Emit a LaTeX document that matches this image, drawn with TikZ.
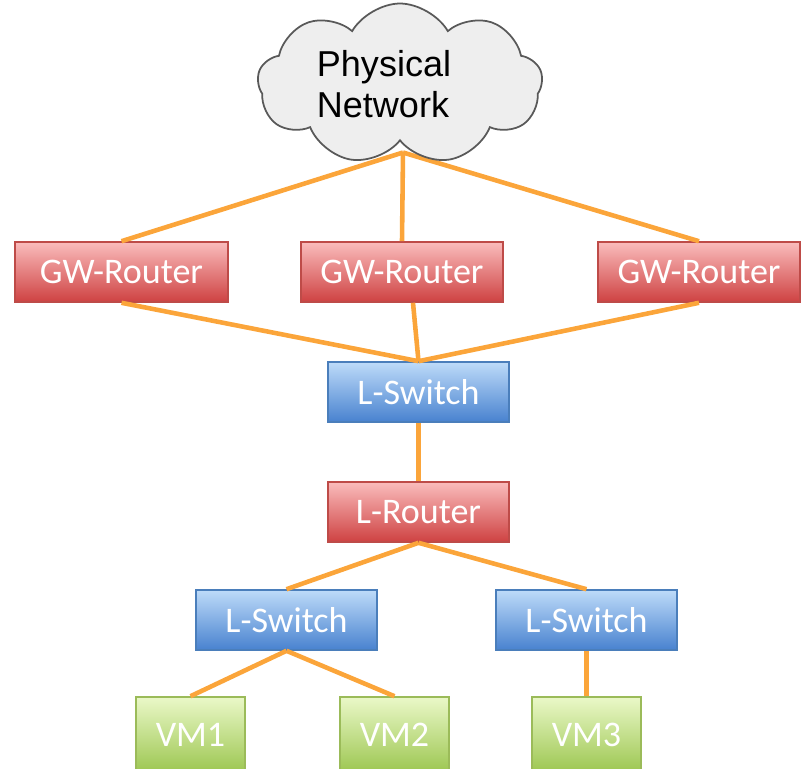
\documentclass[tikz,border=0pt]{standalone}
\usepackage{fontspec}
\setmainfont{Carlito}
\newfontfamily\cloudfont{Liberation Sans}
\usepackage{tikz}
\usetikzlibrary{calc,positioning,shapes.symbols}
\definecolor{linkorange}{RGB}{251,165,58}
\definecolor{redtop}{RGB}{250,188,188}
\definecolor{redbot}{RGB}{206,66,66}
\definecolor{redline}{RGB}{190,75,72}
\definecolor{bluetop}{RGB}{190,219,249}
\definecolor{bluebot}{RGB}{72,130,207}
\definecolor{blueline}{RGB}{74,126,187}
\definecolor{greentop}{RGB}{234,248,200}
\definecolor{greenbot}{RGB}{156,198,80}
\definecolor{greenline}{RGB}{155,187,89}
\definecolor{cloudgray}{RGB}{238,238,238}
\tikzstyle{box}=[rectangle,draw,line width=0.9pt,text=white,inner sep=0pt,minimum height=1.2cm,font=\fontsize{20.5}{24}\selectfont]
\tikzstyle{routerbox}=[box,draw=redline,top color=redtop,bottom color=redbot]
\tikzstyle{switchbox}=[box,draw=blueline,top color=bluetop,bottom color=bluebot,minimum width=3.62cm]
\tikzstyle{vmbox}=[box,draw=greenline,top color=greentop,bottom color=greenbot,minimum width=2.18cm,minimum height=1.52cm]
\tikzstyle{link}=[-,linkorange,line width=2.6pt]

\begin{document}
\begin{tikzpicture}
            \clip (0,0) rectangle (16.04,-15.38);
            % gateway routers
            \node[routerbox,minimum width=4.26cm] (gw1) at (2.43,-5.44) {GW-Router};
            \node[routerbox,minimum width=4.04cm] (gw2) at (8.04,-5.44) {GW-Router};
            \node[routerbox,minimum width=4.04cm] (gw3) at (13.98,-5.44) {GW-Router};
            \node[switchbox] (sw0) at (8.37,-7.84) {L-Switch};
            \node[routerbox,minimum width=3.62cm] (lr) at (8.37,-10.24) {L-Router};
            \node[switchbox] (sw1) at (5.73,-12.4) {L-Switch};
            \node[switchbox] (sw2) at (11.73,-12.4) {L-Switch};
            % vms (cut at bottom)
            \node[vmbox] (vm1) at (3.81,-14.7) {VM1};
            \node[vmbox] (vm2) at (7.89,-14.7) {VM2};
            \node[vmbox] (vm3) at (11.73,-14.7) {VM3};
            \coordinate (netb) at (8.06,-3.05);
            \coordinate (gw2b) at ($(gw2.south)+(0.22,0)$);
            \draw[link] (netb) -- (gw1.north);
            \draw[link] (netb) -- (gw2.north);
            \draw[link] (netb) -- (gw3.north);
            \draw[link] (gw1.south) -- (sw0.north);
            \draw[link] (gw2b) -- (sw0.north);
            \draw[link] (gw3.south) -- (sw0.north);
            \draw[link] (sw0.south) -- (lr.north);
            \draw[link] (lr.south) -- (sw1.north);
            \draw[link] (lr.south) -- (sw2.north);
            \draw[link] (sw1.south) -- (vm1.north);
            \draw[link] (sw1.south) -- (vm2.north);
            \draw[link] (sw2.south) -- (vm3.north);
            % cloud on top, covers the link ends
            \node[cloud,draw=black!65,line width=1pt,fill=cloudgray,cloud puffs=9,cloud puff arc=120,shape border rotate=20,
                  cloud ignores aspect,minimum width=5.7cm,minimum height=3.22cm,inner sep=0pt] (net) at (8.0,-1.68) {};
            \node[align=left,font=\cloudfont\fontsize{20.5}{23.2}\selectfont] (nettext) at (7.68,-1.68) {Physical\\Network};
        \end{tikzpicture}
\end{document}
